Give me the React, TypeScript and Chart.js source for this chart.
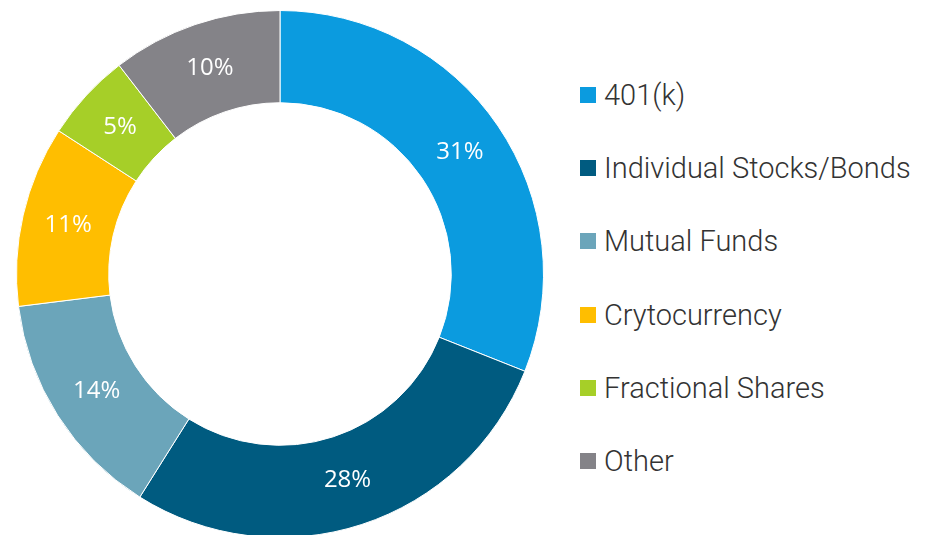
import React, { useEffect, useRef } from "react";
import { Chart, registerables } from "chart.js";

Chart.register(...registerables);

const categories = [
  "401(k)",
  "Individual Stocks/Bonds",
  "Mutual Funds",
  "Crytocurrency",
  "Fractional Shares",
  "Other",
];
const shares = [31.0, 27.9, 14.1, 11.1, 5.4, 10.45];
const colors = ["#0b9bdf", "#005b80", "#6ba5ba", "#ffbe00", "#a6cf28", "#848388"];

const sliceLabelPlugin = {
  id: "sliceLabels",
  afterDatasetsDraw(chart: any) {
    const ctx = chart.ctx;
    const meta = chart.getDatasetMeta(0);
    ctx.save();
    ctx.fillStyle = "#ffffff";
    ctx.font = "24px 'Open Sans', sans-serif";
    ctx.textAlign = "center";
    ctx.textBaseline = "middle";
    meta.data.forEach((arc: any, i: number) => {
      const p = arc.tooltipPosition(false);
      ctx.fillText(`${Math.round(shares[i])}%`, p.x, p.y);
    });
    ctx.restore();
  },
};

export default function App() {
  const ref = useRef<HTMLCanvasElement | null>(null);

  useEffect(() => {
    document.body.style.margin = "0";
    document.body.style.overflow = "hidden";
    if (!ref.current) return;
    const chart = new Chart(ref.current, {
      type: "doughnut",
      data: {
        labels: categories,
        datasets: [
          {
            data: shares,
            backgroundColor: colors,
            borderColor: "#ffffff",
            borderWidth: 1,
          },
        ],
      },
      options: {
        animation: false,
        responsive: false,
        cutout: "65%",
        layout: { padding: { top: 10, bottom: 2, left: 0, right: 0 } },
        plugins: {
          legend: { display: false },
          tooltip: { enabled: false },
        },
      },
      plugins: [sliceLabelPlugin],
    });
    return () => chart.destroy();
  }, []);

  return (
    <div style={{ position: "relative", width: 932, height: 535, overflow: "hidden", background: "#fff" }}>
      <canvas ref={ref} width={560} height={540} style={{ position: "absolute", left: 0, top: 0 }} />
      <div style={{ position: "absolute", left: 580, top: 58.4 }}>
        {categories.map((c, i) => (
          <div
            key={c}
            style={{
              height: 73.2,
              display: "flex",
              alignItems: "center",
              fontFamily: "Roboto, sans-serif",
              fontWeight: 300,
              fontSize: 29,
              color: "#333333",
              whiteSpace: "nowrap",
            }}
          >
            <span style={{ display: "inline-block", width: 16, height: 16, background: colors[i], marginRight: 8, flexShrink: 0 }} />
            <span>{c}</span>
          </div>
        ))}
      </div>
    </div>
  );
}
